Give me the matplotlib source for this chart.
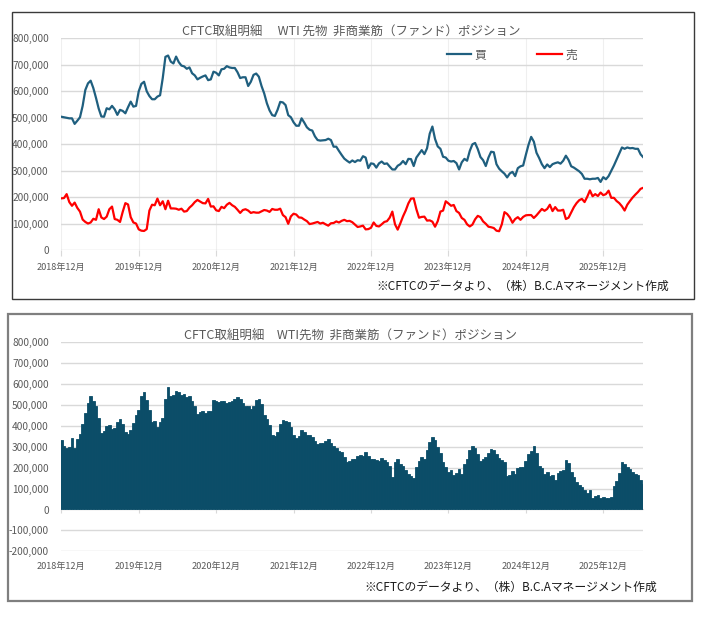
import matplotlib
matplotlib.use('Agg')
import matplotlib.pyplot as plt
import matplotlib.dates as mdates
import numpy as np
import pandas as pd
from matplotlib.patches import Rectangle
from matplotlib.ticker import FuncFormatter

plt.rcParams['font.family'] = ['Noto Sans CJK JP', 'DejaVu Sans']

# ---- data (thousand contracts), regular spacing from first to last report ----
long_k = [504, 502, 500, 498, 498, 477, 489, 502, 545, 605,
          630, 640, 612, 575, 535, 505, 504, 536, 532, 545,
          532, 511, 530, 526, 517, 540, 561, 542, 545, 600,
          628, 636, 600, 582, 570, 570, 580, 585, 650, 730,
          735, 712, 705, 731, 710, 697, 694, 685, 690, 668,
          660, 645, 651, 656, 660, 642, 645, 674, 670, 660,
          683, 685, 695, 690, 688, 688, 672, 650, 653, 653,
          620, 636, 662,
          667, 655, 620, 592, 555, 528, 510,
          507, 530, 560, 558, 548, 510, 502, 483, 470, 470,
          498, 482, 464, 455, 452, 430, 416, 414, 415, 416,
          421, 416, 391, 391, 375, 360, 346, 338, 331, 339,
          333, 340, 338, 355, 350, 310, 328, 326, 312, 328,
          335, 326, 328, 316, 305, 305, 319, 325, 337, 325,
          345, 344, 318, 350, 364, 378, 363, 385, 440, 467,
          420, 392, 383, 353, 350, 338,
          335, 337, 329, 305,
          332, 345, 338, 375, 400, 405, 382, 352, 340, 318,
          350, 372, 370, 325, 308, 298, 289, 275, 290, 296,
          280, 310, 317, 320, 360, 398, 428, 410, 368, 348,
          325, 310, 324, 314, 325, 329, 332, 327, 338, 357,
          341, 317, 312, 305, 298, 288, 270, 270, 268, 270,
          270, 273, 258, 276, 268, 280, 300, 320, 343, 365,
          388, 383, 388, 385, 386, 383, 383, 362, 351]

short_k = [196, 197, 212, 182, 168, 180, 160, 146, 116, 107,
           101, 105, 119, 115, 155, 124, 118, 127, 155, 165,
           118, 115, 107, 145, 178, 173, 125, 105, 101, 79,
           74, 73, 80, 150, 172, 170, 195, 170, 185, 155,
           187, 158, 158, 157, 153, 157, 146, 148, 161, 170,
           182, 190, 184, 178, 177, 194, 165, 166, 151, 148,
           164, 159, 172, 179, 170, 164, 153, 141, 152, 155,
           150, 141, 144,
           142, 142, 147, 152, 150, 145, 156,
           153, 153, 157, 133, 125, 100, 128, 138, 135, 124,
           123, 116, 110, 99, 101, 104, 107, 101, 104, 98,
           93, 102, 103, 109, 105, 111, 115, 110, 111, 106,
           97, 88, 90, 93, 79, 80, 85, 105, 92, 90,
           98, 107, 110, 123, 146, 98, 78, 102, 128, 150,
           177, 195, 196, 155, 123, 126, 127, 112, 113, 108,
           89, 110, 146, 150, 185, 177,
           168, 171, 148, 141,
           122, 115, 98, 90, 97, 117, 130, 125, 109, 100,
           89, 87, 84, 74, 72, 98, 144, 137, 124, 104,
           118, 125, 115, 126, 132, 133, 133, 122, 132, 144,
           156, 149, 156, 172, 148, 163, 150, 150, 153, 118,
           123, 143, 163, 178, 189, 194, 182, 202, 226, 204,
           212, 205, 218, 208, 212, 225, 198, 198, 186, 178,
           166, 150, 172, 186, 199, 210, 220, 232, 236]

net_k = [332, 306, 295, 300, 340, 295, 336, 362, 410, 463,
         510, 545, 517, 495, 440, 365, 375, 400, 405, 385,
         392, 420, 435, 410, 370, 360, 378, 415, 453, 475,
         541, 562, 525, 478, 420, 422, 393, 418, 440, 530,
         585, 545, 550, 567, 564, 548, 551, 540, 545, 520,
         494, 455, 467, 473, 462, 470, 472, 523, 521, 516,
         521, 520, 508, 516, 521, 530, 537, 527, 508, 495,
         496, 480, 497,
         526, 529, 505, 451, 435, 402, 356,
         352, 372, 411, 426, 423, 419, 393, 356, 340, 350,
         380, 372, 358, 356, 348, 329, 313, 316, 320, 327,
         335, 320, 303, 292, 279, 273, 252, 228, 233, 244,
         240, 254, 260, 257, 273, 255, 244, 244, 236, 230,
         245, 236, 225, 209, 156, 228, 240, 220, 208, 187,
         172, 162, 150, 201, 234, 252, 244, 287, 325, 348,
         332, 300, 268, 226, 204, 180,
         190, 166, 175, 194,
         170, 220, 243, 286, 302, 294, 265, 232, 240, 253,
         270, 290, 286, 266, 245, 236, 228, 160, 166, 184,
         168, 197, 202, 204, 232, 264, 279, 305, 272, 210,
         200, 172, 178, 158, 164, 143, 177, 184, 187, 236,
         224, 178, 154, 132, 117, 106, 94, 80, 95, 55,
         63, 67, 57, 60, 53, 55, 60, 112, 136, 175,
         226, 216, 205, 195, 180, 172, 163, 140, 122]

first_date, last_date = '2018-12-04', '2026-06-10'
tick_years = [2018, 2019, 2020, 2021, 2022, 2023, 2024, 2025]
tick_labels = [f'{y}年12月' for y in tick_years]
series_names = ['買', '売']
title_top = 'CFTC取組明細\u3000 WTI 先物  非商業筋（ファンド）ポジション'
title_bottom = 'CFTC取組明細\u3000WTI先物  非商業筋（ファンド）ポジション'
note = '※CFTCのデータより、（株）B.C.Aマネージメント作成'

# ---- styling ----
C_LONG = '#1F5F7F'
C_SHORT = '#FF0000'
C_NET = '#0B4D68'
C_GRID = '#D9D9D9'
C_TXT = '#595959'

dates = pd.date_range(first_date, last_date, periods=len(long_k))
tick_dates = [pd.Timestamp(f'{y}-12-04') for y in tick_years]
xnum = mdates.date2num(dates)

W, H = 709, 622
fig = plt.figure(figsize=(W / 100, H / 100), dpi=100)
fig.patch.set_facecolor('white')

def fx(px):
    return px / W

def fy(py):
    return 1 - py / H

def box(x0, y0, x1, y1, color, lw):
    fig.add_artist(Rectangle((fx(x0), fy(y1)), fx(x1) - fx(x0), fy(y0) - fy(y1),
                             transform=fig.transFigure, fill=False,
                             edgecolor=color, linewidth=lw))

box(11.7, 11.7, 694, 299, '#3A3A3A', 1.0)
box(8, 314.3, 692, 601, '#7F7F7F', 1.6)

fmt = FuncFormatter(lambda v, p: f'{v:,.0f}')

def style(ax, ymin, ymax):
    ax.set_xlim(xnum[0], xnum[-1])
    ax.set_ylim(ymin, ymax)
    ax.set_yticks(np.arange(ymin, ymax + 1, 100000))
    ax.yaxis.set_major_formatter(fmt)
    ax.set_xticks(mdates.date2num(tick_dates))
    ax.set_xticklabels(tick_labels)
    for s in ax.spines.values():
        s.set_visible(False)
    ax.grid(axis='y', color=C_GRID, lw=1.0)
    ax.set_axisbelow(True)
    ax.tick_params(axis='y', length=0, pad=9, labelsize=7.3, labelcolor=C_TXT)

# ---- top chart ----
ax1 = fig.add_axes([fx(61.3), fy(250.3), fx(643.3) - fx(61.3), fy(38.3) - fy(250.3)])
style(ax1, 0, 800000)
ax1.grid(axis='x', color='#EFEFEF', lw=0.8)
ax1.tick_params(axis='x', length=4, color=C_GRID, pad=5, labelsize=6.6, labelcolor=C_TXT)
ax1.plot(xnum, np.array(long_k) * 1000, color=C_LONG, lw=1.6, label=series_names[0])
ax1.plot(xnum, np.array(short_k) * 1000, color=C_SHORT, lw=1.6, label=series_names[1])
ax1.legend(loc='center left', bbox_to_anchor=(fx(446.5), fy(55)), bbox_transform=fig.transFigure,
           ncol=2, frameon=False, fontsize=8.5, handlelength=2.1, handletextpad=0.3,
           columnspacing=4.3, borderpad=0, borderaxespad=0, labelcolor=C_TXT)
fig.text(fx(351), fy(32.7), title_top, ha='center', va='center', fontsize=9, color=C_TXT)
fig.text(fx(523), fy(286.7), note, ha='center', va='center', fontsize=8.5, color='#1A1A1A')

# ---- bottom chart ----
ax2 = fig.add_axes([fx(61.3), fy(551.3), fx(643.3) - fx(61.3), fy(342.3) - fy(551.3)])
style(ax2, -200000, 800000)
ax2.tick_params(axis='x', length=0, pad=8, labelsize=6.6, labelcolor=C_TXT)
bw = np.diff(xnum).mean()
ax2.bar(xnum, np.array(net_k) * 1000, width=bw, color=C_NET, edgecolor=C_NET, linewidth=0.6)
sec = ax2.secondary_xaxis(0, transform=ax2.transData)
sec.set_xticks(mdates.date2num(tick_dates))
sec.tick_params(length=3, color=C_GRID, labelbottom=False)
sec.spines['bottom'].set_color(C_GRID)
fig.text(fx(350), fy(336), title_bottom, ha='center', va='center', fontsize=9, color=C_TXT)
fig.text(fx(511), fy(587.7), note, ha='center', va='center', fontsize=8.5, color='#1A1A1A')

fig.savefig('out.png', dpi=100, facecolor='white')
